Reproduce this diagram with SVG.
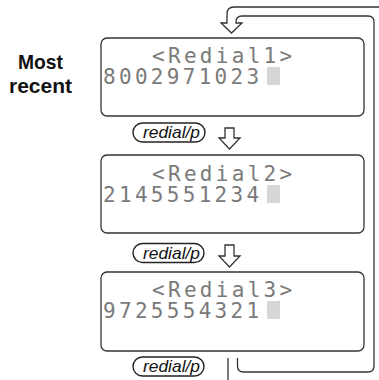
<svg xmlns="http://www.w3.org/2000/svg" width="379" height="380" viewBox="0 0 379 380">
<style>
.box{fill:#fff;stroke:#333;stroke-width:1.3}
.lcd{font-family:"DejaVu Sans Mono","Liberation Mono",monospace;font-size:21px;letter-spacing:3.3px;fill:#7a7a7a}
.cur{fill:#d6d6d6}
.pill{fill:#fff;stroke:#222;stroke-width:1.4}
.ptxt{font-family:"Liberation Sans",Arial,sans-serif;font-style:italic;font-size:16.5px;fill:#111}
.arr{fill:#fff;stroke:#333;stroke-width:1.3;stroke-linejoin:miter}
.lbl{font-family:"Liberation Sans",Arial,sans-serif;font-weight:bold;font-size:21px;fill:#111}
</style>
<g id="label">
<text class="lbl" x="18" y="69" textLength="45" lengthAdjust="spacingAndGlyphs">Most</text>
<text class="lbl" x="9" y="93" textLength="63" lengthAdjust="spacingAndGlyphs">recent</text>
</g>
<g id="connectors">
<path class="arr" d="M225,128 H234 V138 H240 L229.5,149 L219,138 H225 Z"/>
<path class="arr" d="M225,245 H234 V256 H240 L229.5,267 L219,256 H225 Z"/>
<path class="arr" fill="none" d="M228,358 V381 Q228,390 237,390 M237.5,358 V366 Q237.5,372 243.5,372 H368 Q374,372 374,366 V22 Q374,16 368,16 H242 Q236,16 236,22 V23 H242 L231.5,33 L221,23 H227 V14 Q227,7 234,7 H390"/>
</g>
<g id="node1">
<rect class="box" x="101" y="38" width="263" height="78" rx="6"/>
<text class="lcd" x="152" y="63">&lt;Redial1&gt;</text>
<text class="lcd" x="103" y="84">8002971023</text>
<rect class="cur" x="267" y="67" width="13" height="18"/>
</g>
<g id="pill1">
<rect class="pill" x="133" y="123" width="72" height="19" rx="9.5"/>
<text class="ptxt" x="143" y="138" textLength="57" lengthAdjust="spacingAndGlyphs">redial/p</text>
</g>
<g id="node2">
<rect class="box" x="101" y="155" width="263" height="78" rx="6"/>
<text class="lcd" x="152" y="181">&lt;Redial2&gt;</text>
<text class="lcd" x="103" y="202">2145551234</text>
<rect class="cur" x="267" y="185" width="13" height="18"/>
</g>
<g id="pill2">
<rect class="pill" x="133" y="243.5" width="71" height="19" rx="9.5"/>
<text class="ptxt" x="143" y="258.5" textLength="57" lengthAdjust="spacingAndGlyphs">redial/p</text>
</g>
<g id="node3">
<rect class="box" x="101" y="272" width="263" height="79" rx="6"/>
<text class="lcd" x="152" y="297">&lt;Redial3&gt;</text>
<text class="lcd" x="103" y="318">9725554321</text>
<rect class="cur" x="267" y="301" width="13" height="18"/>
</g>
<g id="pill3">
<rect class="pill" x="133" y="357" width="71" height="19" rx="9.5"/>
<text class="ptxt" x="143" y="372" textLength="57" lengthAdjust="spacingAndGlyphs">redial/p</text>
</g>
</svg>
